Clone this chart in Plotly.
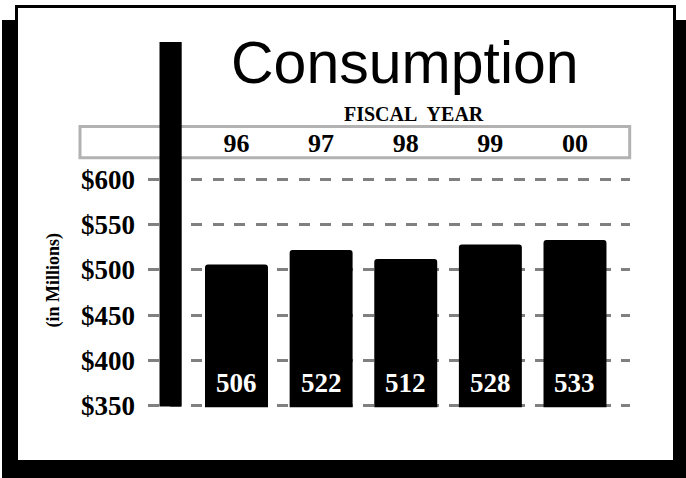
import plotly.graph_objects as go

# Fiscal-year consumption, in millions of dollars
years = ["96", "97", "98", "99", "00"]
consumption = [506, 522, 512, 528, 533]
y_ticks = [350, 400, 450, 500, 550, 600]
y_tick_text = ["$" + str(v) for v in y_ticks]

W, H = 686, 478


def px(x):
    return x / W


def py(y):
    return 1 - y / H


serif_bold = dict(family="Liberation Serif", weight="bold", color="black")

fig = go.Figure()

fig.add_trace(go.Bar(
    x=years,
    y=consumption,
    marker=dict(color="black", line=dict(width=0), cornerradius=3),
    hoverinfo="x+y",
    showlegend=False,
))

# white value labels near the foot of each bar (category index positions)
for i, v in enumerate(consumption):
    fig.add_annotation(
        x=i, y=y_ticks[0], xref="x", yref="y",
        text=str(v), showarrow=False,
        yanchor="middle", yshift=22,
        font=dict(serif_bold, size=27, color="white"),
    )

annotations_paper = [
    dict(text="Consumption", x=px(405), y=py(63),
         font=dict(family="Liberation Sans", size=59, color="black")),
    dict(text="FISCAL&nbsp; YEAR", x=px(413.7), y=py(113.5),
         font=dict(serif_bold, size=20)),
    dict(text="(in Millions)", x=px(52.5), y=py(280), textangle=-90,
         font=dict(serif_bold, size=18)),
]
for a in annotations_paper:
    fig.add_annotation(xref="paper", yref="paper", showarrow=False,
                       xanchor="center", yanchor="middle", **a)

shapes = [
    # drop shadow behind the card
    dict(type="rect", x0=px(2), x1=px(686), y0=py(20), y1=py(478),
         fillcolor="black", line=dict(width=0), layer="below"),
    # white card with thin black edge
    dict(type="rect", x0=px(16.5), x1=px(674.5), y0=py(6.5), y1=py(461.5),
         fillcolor="white", line=dict(color="black", width=3), layer="below"),
    # grey frame around the year labels
    dict(type="rect", x0=px(80), x1=px(629.7), y0=py(126.5), y1=py(157.7),
         fillcolor="rgba(0,0,0,0)", line=dict(color="#b2b2b2", width=3),
         layer="above"),
    # heavy vertical rule on the left
    dict(type="rect", x0=px(159.5), x1=px(181.7), y0=py(42), y1=py(406.5),
         fillcolor="black", line=dict(width=0), layer="above"),
]
for s in shapes:
    s.update(xref="paper", yref="paper")

fig.update_layout(
    width=W, height=H,
    margin=dict(l=0, r=0, t=0, b=0, autoexpand=False),
    paper_bgcolor="white",
    plot_bgcolor="rgba(0,0,0,0)",
    bargap=0.256,
    shapes=shapes,
    xaxis=dict(
        type="category",
        domain=[px(148), px(630)],
        range=[-1.0458, 4.650],
        side="top",
        automargin=False,
        showgrid=False, zeroline=False, showline=False,
        ticks="", ticklabelstandoff=18,
        tickfont=dict(serif_bold, size=26),
    ),
    yaxis=dict(
        domain=[py(407.3), py(175.9)],
        range=[348, 604],
        tickvals=y_ticks,
        ticktext=y_tick_text,
        automargin=False,
        showgrid=True, gridcolor="#808080", gridwidth=3,
        griddash="11px,10.5px",
        zeroline=False, showline=False,
        ticks="", ticklabelstandoff=12,
        tickfont=dict(serif_bold, size=27),
    ),
)

fig.write_html("out.html")
